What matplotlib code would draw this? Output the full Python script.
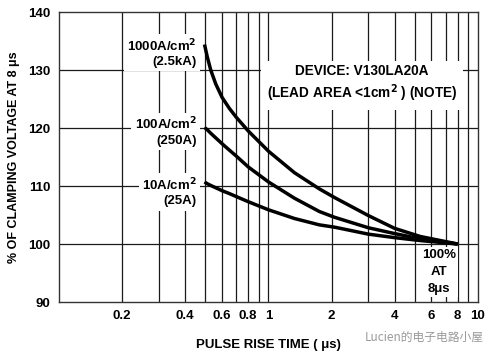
import matplotlib
matplotlib.use("Agg")
import matplotlib.pyplot as plt
from matplotlib.ticker import FixedLocator, NullFormatter

plt.rcParams['font.family'] = ['Liberation Sans', 'DejaVu Sans']

# ---- data ----
rise_time = [0.495, 0.51, 0.53, 0.56, 0.6, 0.65, 0.7, 0.8, 1.0, 1.33, 1.75, 2.07, 3.0, 4.0, 5.3, 8.0]
v_1000 = [134.4, 132.3, 130.0, 127.6, 125.3, 123.4, 121.9, 119.5, 116.0, 112.3, 109.5, 108.0, 104.9, 102.7, 101.3, 100.0]
v_100 = [120.1, 119.7, 119.1, 118.3, 117.3, 116.2, 115.2, 113.3, 110.7, 107.9, 105.6, 104.6, 102.8, 101.8, 100.9, 100.0]
v_10 = [110.7, 110.4, 110.1, 109.7, 109.2, 108.7, 108.2, 107.3, 105.9, 104.4, 103.3, 102.9, 101.7, 101.1, 100.6, 100.0]

x_major = [0.2, 0.4, 0.6, 0.8, 1, 2, 4, 6, 8, 10]
x_major_labels = ["0.2", "0.4", "0.6", "0.8", "1", "2", "4", "6", "8", "10"]
x_grid = [0.2, 0.3, 0.4, 0.5, 0.6, 0.7, 0.8, 0.9, 1, 2, 3, 4, 5, 6, 7, 8, 9]
y_ticks = [90, 100, 110, 120, 130, 140]

fig = plt.figure(figsize=(5.01, 3.58), dpi=100)
ax = fig.add_axes([0.1178, 0.1564, 0.8362, 0.81])
ax.set_xscale('log')
ax.set_xlim(0.1, 10)
ax.set_ylim(90, 140)

gc = '#1a1a1a'
for xv in x_grid:
    ax.axvline(xv, color=gc, lw=0.9, zorder=1)
for yv in y_ticks[1:-1]:
    ax.axhline(yv, color=gc, lw=0.9, zorder=1)

ax.xaxis.set_major_locator(FixedLocator(x_major))
ax.set_xticklabels(x_major_labels)
ax.xaxis.set_minor_locator(FixedLocator([]))
ax.xaxis.set_minor_formatter(NullFormatter())
ax.set_yticks(y_ticks)
ax.tick_params(length=0, labelsize=9.5, pad=6)
for lab in ax.get_xticklabels() + ax.get_yticklabels():
    lab.set_fontweight('bold')
for s in ax.spines.values():
    s.set_color('#333333')
    s.set_linewidth(1.0)

lw = 2.5
for v in (v_1000, v_100, v_10):
    ax.plot(rise_time, v, color='black', lw=lw, solid_capstyle='butt',
            solid_joinstyle='round', zorder=4)

box = dict(facecolor='white', edgecolor='none', pad=2.5)
tk = dict(fontsize=9.5, fontweight='bold', ha='right', va='center', zorder=3)
ax.text(0.455, 133.0, "1000A/cm$^\\mathbf{2}$\n(2.5kA)", bbox=box, linespacing=1.25, **tk)
ax.text(0.455, 119.4, "100A/cm$^\\mathbf{2}$\n(250A)", bbox=box, linespacing=1.25, **tk)
ax.text(0.455, 109.0, "10A/cm$^\\mathbf{2}$\n(25A)", bbox=box, linespacing=1.25, **tk)

ax.text(2.8, 127.6, "DEVICE: V130LA20A\n(LEAD AREA <1cm$^\\mathbf{2}$ ) (NOTE)",
        fontsize=9.8, fontweight='bold', ha='center', va='center', linespacing=1.3,
        bbox=dict(facecolor='white', edgecolor='none', pad=4), zorder=3)

ax.text(6.5, 95.2, "100%\nAT\n8\u03bcs", fontsize=9.5, fontweight='bold', ha='center',
        va='center', linespacing=1.55,
        bbox=dict(facecolor='white', edgecolor='none', pad=1.5), zorder=3)

ax.set_ylabel("% OF CLAMPING VOLTAGE AT 8 \u03bcs", fontsize=9, fontweight='bold', labelpad=6)
ax.set_xlabel("PULSE RISE TIME ( \u03bcs)", fontsize=9.5, fontweight='bold', labelpad=12)

fig.text(0.728, 0.058, "Lucien的电子电路小屋", fontsize=8.5, color='#9a9a9a',
         family=['Noto Sans CJK SC', 'DejaVu Sans'], ha='left', va='center')

fig.savefig("out.png", dpi=100)
